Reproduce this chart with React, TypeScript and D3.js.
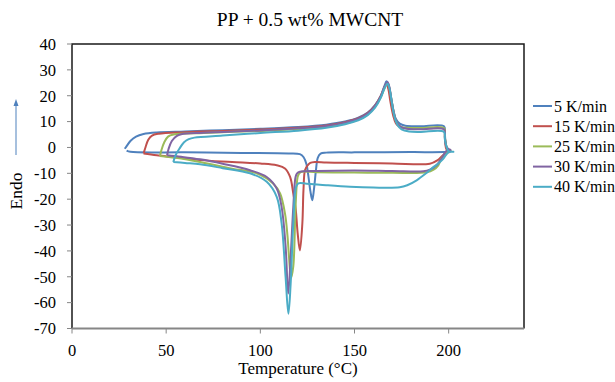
import React from "react";
import * as d3 from "d3";

const width = 615;
const height = 382;
const margin = { top: 44, right: 91, bottom: 53.5, left: 72 };

const seriesNames = ["5 K/min", "15 K/min", "25 K/min", "30 K/min", "40 K/min"];
const seriesColors = ["#4F81BD", "#C0504D", "#9BBB59", "#8064A2", "#4BACC6"];
const xTicks = [0, 50, 100, 150, 200];
const yTicks = [40, 30, 20, 10, 0, -10, -20, -30, -40, -50, -60, -70];

// [temperature, heat flow], heating then cooling
const rate5 = [
  [28, -0.5], [29, 0.5], [31, 2.5], [34, 4.2], [38, 5.2], [45, 5.8], [60, 6.2], [80, 6.7],
  [100, 7.2], [120, 7.9], [135, 8.8], [145, 10], [152, 11.5], [157, 13.5], [161, 16.5],
  [164, 20], [166, 24], [167, 25.6], [168, 24.5], [169, 21], [170.5, 15], [172, 11],
  [174, 9.2], [177, 8.4], [185, 8.2], [197.5, 8.2], [198, 5], [198.5, 1], [199.5, -1],
  [201, -1.4], [199, -1.7], [180, -1.8], [150, -1.9], [135, -2.0], [132, -2.4], [130.5, -4],
  [129.5, -9], [128.5, -16], [127.6, -20.4], [126.6, -17], [125.5, -11], [124.5, -6.5],
  [123, -3.8], [121, -2.6], [115, -2.3], [90, -2.1], [60, -1.9], [31, -1.7], [29, -1.2],
];

const rate15 = [
  [38, -2.3], [39, 0], [40.5, 3], [42.5, 4.6], [46, 5.3], [60, 5.9], [80, 6.4], [100, 6.9],
  [120, 7.6], [135, 8.5], [145, 9.8], [152, 11.3], [157, 13.3], [161, 16.3], [164, 20],
  [166, 23.5], [167, 24.5], [168, 22.5], [169, 18], [170.5, 12.5], [172, 9.3], [174, 8],
  [177, 7.4], [185, 7.2], [197.5, 7.2], [198, 4], [198.5, 0], [199.5, -1.5], [200.5, -1.8],
  [199, -1.9], [197, -3], [194, -5], [190, -6.3], [170, -6.2], [150, -6.0], [135, -5.8],
  [129, -5.6], [126.5, -6], [125, -7], [123.7, -8.8], [122.9, -16.5], [122.3, -29.5],
  [121, -39.8], [119.8, -33], [118.8, -24], [117.5, -17.8], [115.8, -11.4], [113.1, -8.1],
  [108.7, -6.9], [100, -6.2], [85, -5.6], [68, -4.9], [55, -3.8], [45, -3], [38, -2.3],
];

const rate25 = [
  [46.7, -3.3], [47.5, -1], [49, 2], [51, 4.2], [54, 5.0], [70, 5.6], [100, 6.4], [120, 7.1],
  [135, 8], [145, 9.3], [152, 10.8], [157, 12.8], [161, 15.8], [164, 19.5], [166, 23],
  [167.3, 24.8], [168.5, 23], [169.5, 19], [171, 13], [172.5, 9.5], [174.5, 8], [178, 7.6],
  [185, 7.5], [197.5, 7.5], [198, 4], [199, 0], [200, -1], [201, -1.2], [200, -1.1],
  [198, -2.5], [196, -4.5], [194.5, -6.9], [192, -8.6], [188.3, -9.6], [170, -9.8],
  [150, -9.7], [130, -9.6], [121.9, -9.4], [120.5, -10.2], [119.8, -11.4], [118.7, -23],
  [117.5, -46], [116.3, -50.5], [115.2, -42], [114.4, -34], [113.1, -25.6], [110.5, -17.8],
  [106.9, -14], [98, -10], [85, -8.2], [68, -5.6], [55, -4], [46.7, -3.3],
];

const rate30 = [
  [50.5, -3], [51.3, -0.5], [53, 2.5], [55.5, 4.4], [58, 5.1], [70, 5.7], [100, 6.6],
  [120, 7.4], [135, 8.3], [145, 9.6], [152, 11.1], [157, 13.1], [161, 16.1], [164, 19.8],
  [166, 23.5], [167.5, 25.2], [168.5, 23.5], [169.5, 19], [171, 13], [172.5, 9.5],
  [174.5, 8], [178, 7.2], [185, 7], [197.5, 7], [198, 3.5], [199, 0], [200, -0.6],
  [201, -1], [199, -1.2], [196.5, -4], [193.6, -6.9], [190, -8.6], [186.6, -9.2], [170, -9.1],
  [150, -8.9], [130, -9.1], [121, -9.4], [119.5, -10], [118.7, -11.4], [117.5, -23],
  [116.1, -42.3], [114.8, -56.5], [113.4, -38], [111.3, -23], [108.7, -15.9], [103.4, -11.4],
  [94.5, -8.8], [80, -6.3], [68, -4.6], [58, -3.6], [50.5, -3],
];

const rate40 = [
  [53.8, -5.6], [55, -3], [57, -0.5], [59.5, 2], [62, 3.2], [65, 3.8], [80, 4.6], [100, 5.6],
  [120, 6.5], [135, 7.6], [145, 9], [152, 10.5], [157, 12.5], [161, 15.5], [164, 19.3],
  [166, 23], [167.5, 24.6], [168.5, 23], [169.7, 18], [171.2, 12], [173, 8.5], [175, 7],
  [179, 6.2], [185, 6], [197.5, 6], [198, 3], [199, 0], [200, -1.5], [202.5, -1.7],
  [200, -1.8], [197, -4.5], [194, -6.5], [192, -7.5], [188, -10], [183, -12.7], [178, -14.6],
  [174, -15.4], [160, -15.5], [147.6, -15.2], [135, -14.6], [124.6, -14], [120.2, -13.9],
  [119, -15.2], [117.5, -29.4], [116.1, -52.7], [114.9, -64.3], [113.4, -50], [111.3, -29.4],
  [108.7, -19.1], [103.4, -13.3], [94.5, -10], [80, -8], [68, -6.5], [60, -6], [53.8, -5.6],
];

const seriesData = [rate5, rate15, rate25, rate30, rate40];

const font = "'Liberation Serif', 'Times New Roman', serif";

export default function App() {
  const x = d3.scaleLinear().domain([0, 240]).range([margin.left, width - margin.right]);
  const y = d3.scaleLinear().domain([-70, 40]).range([height - margin.bottom, margin.top]);

  const line = d3
    .line<number[]>()
    .x(d => x(d[0]))
    .y(d => y(d[1]))
    .curve(d3.curveCatmullRom.alpha(0.5));

  const x0 = x(0);
  const x1 = x(240);
  const yTop = y(40);
  const yBot = y(-70);

  return (
    <svg width={width} height={height} style={{ position: "absolute", left: 0, top: 0, background: "#fff" }}>
      <text x={310} y={26} textAnchor="middle" fontFamily={font} fontSize={19.5} fill="#000">
        PP + 0.5 wt% MWCNT
      </text>

      {/* plot frame */}
      <path d={`M${x0},${yBot}V${yTop}H${x1}V${yBot}`} fill="none" stroke="#1a1a1a" strokeWidth={1.5} />

      {yTicks.map(t => (
        <g key={t}>
          <line x1={x0 - 5} x2={x0} y1={y(t)} y2={y(t)} stroke="#868686" strokeWidth={1} />
          <text x={56} y={y(t)} dy="0.35em" textAnchor="end" fontFamily={font} fontSize={16.5} fill="#000">
            {t}
          </text>
        </g>
      ))}

      {xTicks.map(t => (
        <g key={t}>
          <line x1={x(t)} x2={x(t)} y1={yBot} y2={yBot + 5} stroke="#868686" strokeWidth={1} />
          <text x={x(t)} y={356} textAnchor="middle" fontFamily={font} fontSize={16.5} fill="#000">
            {t}
          </text>
        </g>
      ))}
      <line x1={x0} x2={x1} y1={yBot} y2={yBot} stroke="#868686" strokeWidth={2} />

      {seriesData.map((s, i) => (
        <path key={i} d={line(s) || ""} fill="none" stroke={seriesColors[i]} strokeWidth={2} strokeLinejoin="round" />
      ))}

      <text x={(x0 + x1) / 2} y={374} textAnchor="middle" fontFamily={font} fontSize={17} fill="#000">
        Temperature (°C)
      </text>

      <text transform="translate(22,191) rotate(-90)" textAnchor="middle" fontFamily={font} fontSize={17.5} fill="#000">
        Endo
      </text>
      <line x1={16} x2={16} y1={155} y2={104} stroke="#4F81BD" strokeWidth={1} />
      <path d="M13.5,106 L16,99 L18.5,106 Z" fill="#4F81BD" />

      {seriesNames.map((n, i) => {
        const ly = 106 + i * 20.2;
        return (
          <g key={n}>
            <line x1={533} x2={552} y1={ly} y2={ly} stroke={seriesColors[i]} strokeWidth={2} />
            <text x={554} y={ly} dy="0.35em" fontFamily={font} fontSize={16} fill="#000">
              {n}
            </text>
          </g>
        );
      })}
    </svg>
  );
}
